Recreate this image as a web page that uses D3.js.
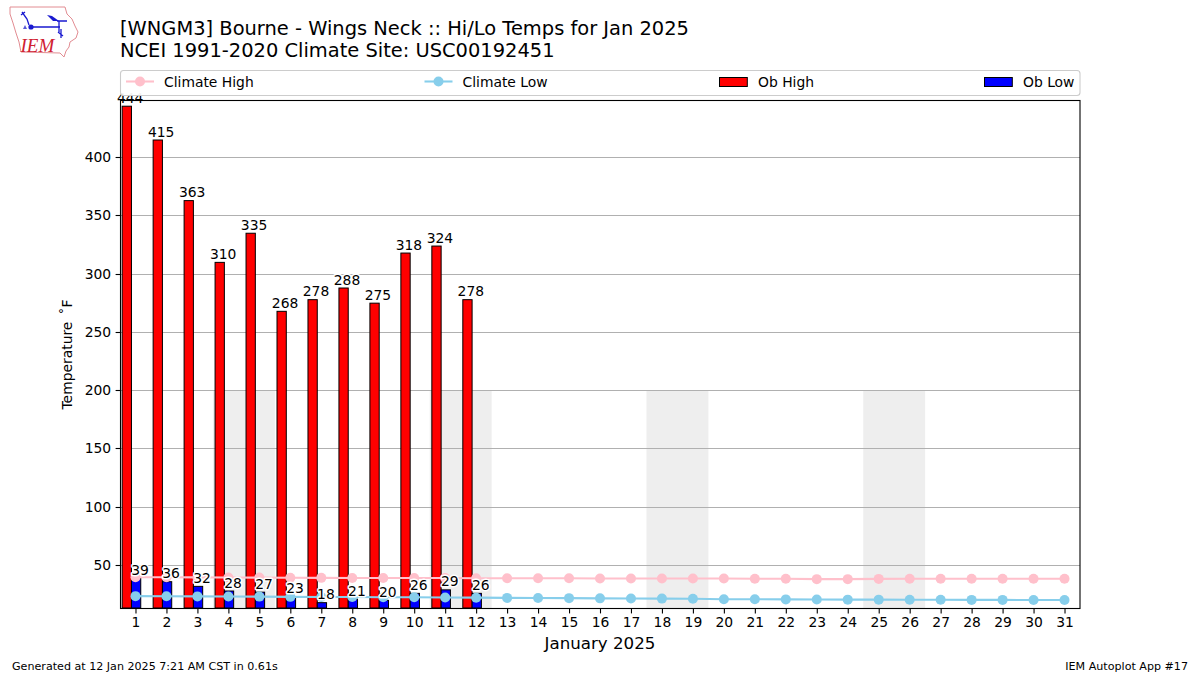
<!DOCTYPE html>
<html><head><meta charset="utf-8">
<script src="https://cdn.jsdelivr.net/npm/d3@7"></script>
<style>html,body{margin:0;padding:0;background:#fff}svg{display:block}text{font-family:"DejaVu Sans";fill:#000}</style>
</head><body><svg id="c" width="1200" height="675"></svg>
<script>
const days = d3.range(1, 32);
const obHigh = [444,415,363,310,335,268,278,288,275,318,324,278];
const obLow = [39,36,32,28,27,23,18,21,20,26,29,26];
const climateHigh = [39.8,39.8,39.7,39.6,39.5,39.4,39.3,39.2,39.2,39.1,39.1,39,39,38.9,38.9,38.8,38.8,38.8,38.8,38.7,38.6,38.6,38.2,38.2,38.4,38.5,38.6,38.6,38.6,38.6,38.6];
const climateLow = [23.6,23.5,23.4,23.3,23.2,23,22.9,22.8,22.7,22.6,22.5,22.3,22.1,22,21.9,21.7,21.6,21.5,21.4,21,20.9,20.8,20.7,20.6,20.6,20.5,20.5,20.4,20.4,20.3,20.3];
const weekendStarts = [4,11,18,25];
const yTicks = [50,100,150,200,250,300,350,400];
const titleLines = ["[WNGM3] Bourne - Wings Neck :: Hi/Lo Temps for Jan 2025","NCEI 1991-2020 Climate Site: USC00192451"];

const L=120,R=1080,T=100,B=608;
const x=d3.scaleLinear().domain([0.5,31.5]).range([L,R]);
const y=d3.scaleLinear().domain([13,448.9]).range([B+.5,T+.5]);
const svg=d3.select("#c");
const dx=v=>x(v)-x(0);
const gy=d=>Math.floor(y(d))+.5;

// weekend shading, up to 200
svg.append("g").selectAll("rect").data(weekendStarts).join("rect")
 .attr("x",d=>x(d-0.5)).attr("width",dx(2)).attr("y",y(200)).attr("height",B-y(200)).attr("fill","#eeeeee");
// grid
svg.append("g").selectAll("line").data(yTicks).join("line")
 .attr("x1",L).attr("x2",R).attr("y1",gy).attr("y2",gy)
 .attr("stroke","#b0b0b0").attr("stroke-width",1.1);
// bars
const bars=(data,off,fill)=>svg.append("g").selectAll("rect").data(data).join("rect")
 .attr("x",(d,i)=>x(i+1+off)).attr("width",dx(0.3)).attr("y",d=>y(d)).attr("height",d=>B-y(d))
 .attr("fill",fill).attr("stroke","#000").attr("stroke-width",1);
bars(obHigh,-0.43,"#ff0000");
bars(obLow,-0.13,"#0000ff");
// climate lines
const line=d3.line().x((d,i)=>x(i+1)).y(d=>y(d));
[[climateHigh,"#ffc0cb"],[climateLow,"#87ceeb"]].forEach(([s,c])=>{
 svg.append("path").attr("d",line(s)).attr("fill","none").attr("stroke",c).attr("stroke-width",2.08);
 svg.append("g").selectAll("circle").data(s).join("circle").attr("cx",(d,i)=>x(i+1)).attr("cy",d=>y(d)).attr("r",5).attr("fill",c);
});
// value labels
const labels=(data,off)=>svg.append("g").selectAll("text").data(data).join("text")
 .attr("x",(d,i)=>x(i+1+off)).attr("y",d=>y(d)-3.5).attr("text-anchor","middle").attr("font-size",13.89)
 .attr("stroke","#fff").attr("stroke-width",3).attr("paint-order","stroke").attr("stroke-linejoin","round").text(d=>d);
labels(obHigh,-0.17);
labels(obLow,0.15);
// frame
svg.append("rect").attr("x",L+.5).attr("y",T+.5).attr("width",R-L-.5).attr("height",B-T).attr("fill","none").attr("stroke","#000").attr("stroke-width",1.1);
// axes
const xa=svg.append("g").attr("transform",`translate(0,${B+.5})`).call(d3.axisBottom(x).tickValues(days).tickFormat(d3.format("d")).tickSize(4.9).tickPadding(4.2));
const ya=svg.append("g").attr("transform",`translate(${L+.5},0)`).call(d3.axisLeft(y).tickValues(yTicks).tickSize(4.9).tickPadding(4.5));
[xa,ya].forEach(a=>{a.select(".domain").remove();a.selectAll("line").attr("stroke","#000").attr("stroke-width",1.1);
 a.selectAll("text").attr("font-size",13.89).attr("font-family","DejaVu Sans").attr("fill","#000");});
ya.selectAll("g.tick").attr("transform",d=>`translate(0,${gy(d)})`);
// axis titles
svg.append("text").attr("x",600).attr("y",649).attr("text-anchor","middle").attr("font-size",16.67).text("January 2025");
svg.append("text").attr("transform","translate(72,354.5) rotate(-90)").attr("text-anchor","middle").attr("font-size",13.89).text("Temperature \u2009\u02DAF");
// chart title
titleLines.forEach((t,i)=>svg.append("text").attr("x",120).attr("y",35+i*22).attr("font-size",19.44).text(t));
// legend
svg.append("rect").attr("x",120.5).attr("y",70.5).attr("width",959.5).attr("height",25).attr("rx",3).attr("fill","#fff").attr("fill-opacity",.95).attr("stroke","#ccc").attr("stroke-width",1.1);
[["Climate High","#ffc0cb",126],["Climate Low","#87ceeb",424.5]].forEach(([t,c,a])=>{
 svg.append("line").attr("x1",a).attr("x2",a+28).attr("y1",81.5).attr("y2",81.5).attr("stroke",c).attr("stroke-width",2.08);
 svg.append("circle").attr("cx",a+14).attr("cy",81.5).attr("r",5).attr("fill",c);
 svg.append("text").attr("x",a+38).attr("y",86.5).attr("font-size",13.89).text(t);
});
[["Ob High","#ff0000",719],["Ob Low","#0000ff",984]].forEach(([t,c,a])=>{
 svg.append("rect").attr("x",a+.5).attr("y",77.5).attr("width",27.8).attr("height",9).attr("fill",c).attr("stroke","#000").attr("stroke-width",1);
 svg.append("text").attr("x",a+39).attr("y",86.5).attr("font-size",13.89).text(t);
});
// footer
svg.append("text").attr("x",12).attr("y",670).attr("font-size",11.11).text("Generated at 12 Jan 2025 7:21 AM CST in 0.61s");
svg.append("text").attr("x",1188).attr("y",670).attr("text-anchor","end").attr("font-size",11.11).text("IEM Autoplot App #17");
// logo
const g=svg.append("g");
g.append("path").attr("d","M10 7 L65 7 L67 14 L72 19 L75 26 L78 32 L76 38 L70 42 L69 47 L66 51 L64 57 L60 53 L21 52 L19 42 L16 33 L13 23 L10 14 Z").attr("fill","#fff").attr("stroke","#e28c92").attr("stroke-width",1);
g.append("path").attr("d","M31 27 H60 M59 21 V32 M21 15 L25 12 M22 12 L27 19 L29 25 M57 21 H67 M58 32 L63 36 M61 29 V38").attr("fill","none").attr("stroke","#1a1ad0").attr("stroke-width",1.3);
g.append("path").attr("d","M47 15 L52 16 L59 21 L53 21 Z").attr("fill","#1a1ad0");
g.append("circle").attr("cx",31).attr("cy",27).attr("r",2.6).attr("fill","#1a1ad0");
g.append("path").attr("d","M23 29 L25 25 L27 29 Z").attr("fill","#5a5ad8");
g.append("text").attr("x",20.5).attr("y",52).attr("font-size",19).attr("font-style","italic").style("font-family","'Liberation Serif'").style("fill","#d02030").text("IEM");
</script></body></html>
